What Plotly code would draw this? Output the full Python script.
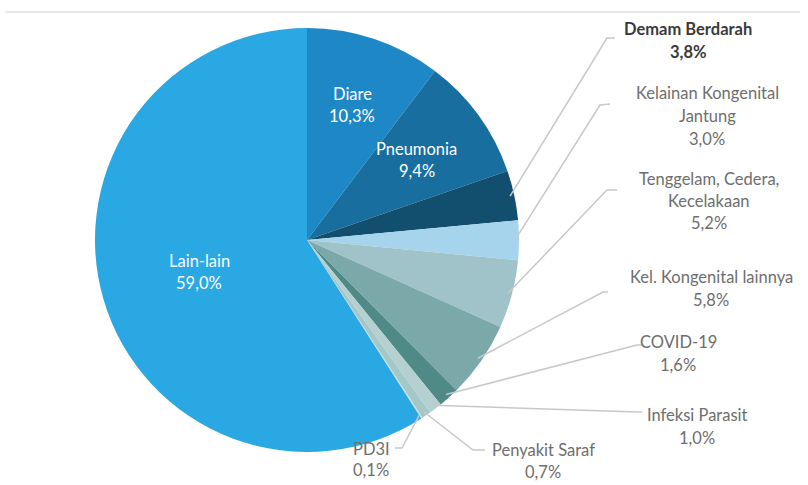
import math
import plotly.graph_objects as go

# ---- data ----
categories = ["Diare", "Pneumonia", "Demam Berdarah", "Kelainan Kongenital Jantung",
              "Tenggelam, Cedera, Kecelakaan", "Kel. Kongenital lainnya", "COVID-19",
              "Infeksi Parasit", "Penyakit Saraf", "PD3I", "Lain-lain"]
values = [10.3, 9.4, 3.8, 3.0, 5.2, 5.8, 1.6, 1.0, 0.7, 0.1, 59.0]
value_labels = ["10,3%", "9,4%", "3,8%", "3,0%", "5,2%", "5,8%", "1,6%", "1,0%", "0,7%", "0,1%", "59,0%"]
label_lines = [["Diare"], ["Pneumonia"], ["Demam Berdarah"], ["Kelainan Kongenital", "Jantung"],
               ["Tenggelam, Cedera,", "Kecelakaan"], ["Kel. Kongenital lainnya"], ["COVID-19"],
               ["Infeksi Parasit"], ["Penyakit Saraf"], ["PD3I"], ["Lain-lain"]]

# ---- styles / layout ----
colors = ["#1E88C6", "#186F9F", "#124E6E", "#A5D4EC", "#A0C3C9", "#7BA8A9", "#4F8A86",
          "#B4D0D1", "#A6C7C8", "#C8DCDD", "#2AA8E4"]
W, H = 808, 485
CX, CY, R = 307, 240, 212
FONT = "Lato"
FS = 16.5

# inside labels: radial fraction
inside = {0: 0.67, 1: 0.64, 10: 0.53}
# outside labels: (text center x, first line y, line step, elbow, end, bold)
outside = {
    2: (688, 29, 23, (607, 38), (615, 38), True),
    3: (707, 93, 23, (600, 105), (610, 104), False),
    4: (709, 179, 22, (607, 190), (617, 190), False),
    5: (711, 277, 23, (603, 292), (608, 292), False),
    6: (678, 342, 23, (637, 345), (642, 345), False),
    7: (697, 415, 23, (637, 412), (642, 412), False),
    8: (543, 450, 22, (473, 450), (485, 450), False),
    9: (371, 449, 21, (402, 448), (395, 448), False),
}


def px(x):
    return x / W


def py(y):
    return 1 - y / H


fig = go.Figure(go.Pie(
    labels=categories, values=values, sort=False, direction="clockwise", rotation=0,
    marker=dict(colors=colors, line=dict(width=0)), textinfo="none",
    hoverinfo="label+percent", showlegend=False,
    domain=dict(x=[px(CX - R), px(CX + R)], y=[py(CY + R), py(CY - R)]),
))

total = sum(values)
cum = 0.0
annotations = []
shapes = []
for i, v in enumerate(values):
    mid = (cum + v / 2) / total * 2 * math.pi
    cum += v
    if i in inside:
        f = inside[i]
        x = CX + R * f * math.sin(mid)
        y = CY - R * f * math.cos(mid)
        lines = label_lines[i] + [value_labels[i]]
        step = 22
        y0 = y - step * (len(lines) - 1) / 2
        for k, t in enumerate(lines):
            annotations.append(dict(x=px(x), y=py(y0 + k * step), xref="paper", yref="paper",
                                    text=t, showarrow=False, xanchor="center", yanchor="middle",
                                    font=dict(family=FONT, size=FS, color="#FFFFFF")))
    elif i in outside:
        tx, ty, step, elbow, end, bold = outside[i]
        lines = label_lines[i] + [value_labels[i]]
        for k, t in enumerate(lines):
            annotations.append(dict(x=px(tx), y=py(ty + k * step), xref="paper", yref="paper",
                                    text=("<b>%s</b>" % t) if bold else t, showarrow=False,
                                    xanchor="center", yanchor="middle",
                                    font=dict(family=FONT, size=FS,
                                              color="#3A3A3A" if bold else "#6E6E6E")))
        sx = CX + R * 0.98 * math.sin(mid)
        sy = CY - R * 0.98 * math.cos(mid)
        path = "M %f %f L %f %f L %f %f" % (px(sx), py(sy), px(elbow[0]), py(elbow[1]),
                                           px(end[0]), py(end[1]))
        shapes.append(dict(type="path", path=path, xref="paper", yref="paper",
                           line=dict(color="#C8C8C8", width=1.5)))

# faint top rule
shapes.append(dict(type="line", xref="paper", yref="paper", x0=px(5), x1=px(800),
                   y0=py(12), y1=py(12), line=dict(color="#E8E8E8", width=2)))

fig.update_layout(width=W, height=H, margin=dict(l=0, r=0, t=0, b=0),
                  paper_bgcolor="white", plot_bgcolor="white",
                  annotations=annotations, shapes=shapes)
fig.write_html("out.html")
